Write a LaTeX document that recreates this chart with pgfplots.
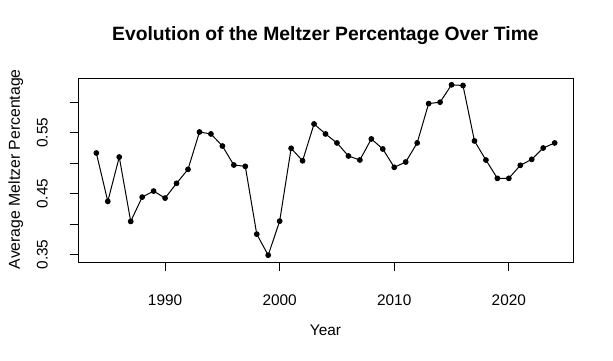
\documentclass[border=0pt]{standalone}
\usepackage{fontspec}
\setmainfont{Liberation Sans}
\usepackage{pgfplots}
\pgfplotsset{compat=1.18}
\begin{document}
\begin{tikzpicture}[x=1pt,y=1pt]
\useasboundingbox (0,0) rectangle (613,360);
\begin{axis}[
  at={(78pt,98pt)}, anchor=south west,
  width=495pt, height=184pt, scale only axis,
  xmin=1982.4, xmax=2025.6,
  ymin=0.3377, ymax=0.6397,
  axis line style={line width=1pt},
  tick style={line width=1pt, black},
  tick align=outside,
  major tick length=8.5pt,
  xtick pos=bottom, ytick pos=left,
  xtick={1990,2000,2010,2020},
  xticklabels={1990,2000,2010,2020},
  ytick={0.35,0.40,0.45,0.50,0.55,0.60},
  yticklabels={0.35,,0.45,,0.55,},
  xticklabel style={font=\fontsize{15.4}{16}\selectfont, anchor=base, yshift=-34.7pt},
  yticklabel style={font=\fontsize{15.4}{16}\selectfont, xshift=-22pt, rotate=90, anchor=base},
  title={\textbf{Evolution of the Meltzer Percentage Over Time}},
  title style={font=\fontsize{19.3}{21}\selectfont, at={(axis description cs:0.4998,1.1685)}, anchor=base},
  xlabel={Year},
  xlabel style={font=\fontsize{15.4}{16}\selectfont, at={(axis description cs:0.5,-0.4005)}, anchor=base},
  ylabel={Average Meltzer Percentage},
  ylabel style={font=\fontsize{15.8}{17}\selectfont, at={(axis description cs:-0.1172,0.504)}, anchor=base, rotate=0},
]
\addplot[black, line width=1pt, mark=*, mark size=2.35pt, mark options={fill=black}] coordinates {
(1984,0.5166) (1985,0.4372) (1986,0.5100) (1987,0.4043) (1988,0.4442)
(1989,0.4541) (1990,0.4426) (1991,0.4668) (1992,0.4898) (1993,0.5511)
(1994,0.5479) (1995,0.5281) (1996,0.4969) (1997,0.4947) (1998,0.3834)
(1999,0.3489) (2000,0.4048) (2001,0.5243) (2002,0.5038) (2003,0.5643)
(2004,0.5479) (2005,0.5331) (2006,0.5117) (2007,0.5051) (2008,0.5397)
(2009,0.5232) (2010,0.4931) (2011,0.5018) (2012,0.5331) (2013,0.5977)
(2014,0.6000) (2015,0.6285) (2016,0.6274) (2017,0.5364) (2018,0.5051)
(2019,0.4750) (2020,0.4750) (2021,0.4964) (2022,0.5062) (2023,0.5248)
(2024,0.5331)
};
\end{axis}
\end{tikzpicture}
\end{document}
